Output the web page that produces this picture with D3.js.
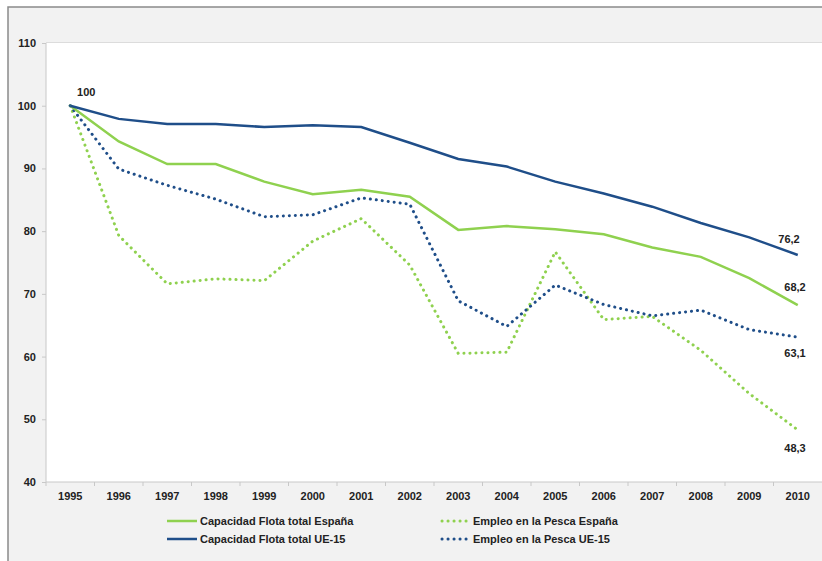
<!DOCTYPE html>
<html lang="es">
<head>
<meta charset="UTF-8">
<script src="https://d3js.org/d3.v7.min.js"></script>
<style>
    body { margin: 0; background: #fff; font-family: Arial, "Liberation Sans", sans-serif; }
    .tick text { font-size: 11px; font-weight: bold; fill: #222; }
    .line { fill: none; }
</style>
</head>
<body>
<svg id="canvas" width="822" height="561"></svg>
<script>
    // data
    const years = ["1995", "1996", "1997", "1998", "1999", "2000", "2001", "2002",
        "2003", "2004", "2005", "2006", "2007", "2008", "2009", "2010"];
    const flotaEspana = [100, 94.3, 90.7, 90.7, 87.9, 85.9, 86.6, 85.5, 80.2, 80.8, 80.3, 79.5, 77.4, 75.9, 72.5, 68.2];
    const flotaUE = [100, 97.9, 97.1, 97.1, 96.6, 96.9, 96.6, 94.1, 91.5, 90.3, 87.9, 86.0, 83.9, 81.3, 79.0, 76.2];
    const empleoEspana = [100, 79.3, 71.6, 72.4, 72.1, 78.4, 82.0, 74.6, 60.5, 60.7, 76.7, 65.9, 66.4, 61.0, 54.1, 48.3];
    const empleoUE = [100, 89.9, 87.3, 85.1, 82.3, 82.6, 85.3, 84.3, 68.9, 64.8, 71.4, 68.3, 66.5, 67.4, 64.3, 63.1];
    const yTicks = [40, 50, 60, 70, 80, 90, 100, 110];

    const green = "#8fd14f";
    const blue = "#1f4e89";

    const series = [
        { name: "Capacidad Flota total España", values: flotaEspana, color: green, dotted: false, last: "68,2" },
        { name: "Empleo en la Pesca España", values: empleoEspana, color: green, dotted: true, last: "48,3" },
        { name: "Capacidad Flota total UE-15", values: flotaUE, color: blue, dotted: false, last: "76,2" },
        { name: "Empleo en la Pesca UE-15", values: empleoUE, color: blue, dotted: true, last: "63,1" }
    ];

    let svg = d3.select("#canvas");

    // grey frame
    svg.append("rect").attr("x", 0).attr("y", 0).attr("width", 822).attr("height", 561).attr("fill", "#fff");
    svg.append("rect").attr("x", 8).attr("y", 7).attr("width", 830).attr("height", 570)
        .attr("fill", "#f2f2f2").attr("stroke", "#8a8a8a").attr("stroke-width", 1.5);

    let margins = { top: 43, left: 46, right: 0, bottom: 79 };
    let chartWidth = 822 - margins.left - margins.right;
    let chartHeight = 561 - margins.top - margins.bottom;

    let chartArea = svg.append("g")
        .attr("transform", `translate(${margins.left},${margins.top})`);

    chartArea.append("rect")
        .attr("width", chartWidth).attr("height", chartHeight)
        .attr("fill", "#fff");
    chartArea.append("line")
        .attr("x1", 0).attr("x2", chartWidth).attr("y1", -0.5).attr("y2", -0.5)
        .attr("stroke", "#dcdcdc");

    const xScale = d3.scaleBand().domain(years).range([0, chartWidth]);
    const yScale = d3.scaleLinear().domain([40, 110]).range([chartHeight, 0]);
    const xMid = d => xScale(d) + xScale.bandwidth() / 2;

    // y axis
    let yAxis = chartArea.append("g")
        .call(d3.axisLeft(yScale).tickValues(yTicks).tickSize(4).tickPadding(6));
    yAxis.selectAll("line, path").attr("stroke", "#c8c8c8");
    yAxis.select(".domain").attr("d", `M0,0V${chartHeight}`);

    // x axis with ticks between categories
    let xAxis = chartArea.append("g")
        .attr("transform", `translate(0,${chartHeight})`)
        .call(d3.axisBottom(xScale).tickSize(0).tickPadding(10));
    xAxis.select(".domain").attr("stroke", "#c8c8c8").attr("d", `M0,0H${chartWidth}`);
    xAxis.selectAll(".sep")
        .data(years)
        .join("line")
        .attr("class", "sep")
        .attr("x1", d => xScale(d)).attr("x2", d => xScale(d))
        .attr("y1", 0).attr("y2", 4)
        .attr("stroke", "#c8c8c8");

    const lineGenerator = d3.line()
        .x((d, i) => xMid(years[i]))
        .y(d => yScale(d));

    const styleLine = (sel) => sel
        .attr("stroke", d => d.color)
        .attr("stroke-width", d => d.dotted ? 3 : 2.5)
        .attr("stroke-linecap", d => d.dotted ? "round" : "butt")
        .attr("stroke-dasharray", d => d.dotted ? "0.1 5.9" : null);

    // draw solid lines on top of dotted ones like the original
    const drawOrder = [series[1], series[3], series[0], series[2]];
    chartArea.selectAll(".series")
        .data(drawOrder)
        .join("path")
        .attr("class", "series line")
        .attr("d", d => lineGenerator(d.values))
        .call(styleLine);

    // value labels
    const labelStyle = sel => sel
        .attr("font-size", 11).attr("font-weight", "bold").attr("fill", "#222");

    chartArea.append("text")
        .attr("x", xMid(years[0]) + 16)
        .attr("y", yScale(flotaUE[0]) - 10)
        .attr("text-anchor", "middle")
        .text("100")
        .call(labelStyle);

    const lastOffsets = { "76,2": -12, "68,2": -14, "63,1": 20, "48,3": 22 };
    const lastDx = { "76,2": 2, "68,2": 8, "63,1": 8, "48,3": 8 };
    chartArea.selectAll(".last")
        .data(series)
        .join("text")
        .attr("class", "last")
        .attr("x", d => xMid(years[years.length - 1]) + lastDx[d.last])
        .attr("y", d => yScale(d.values[d.values.length - 1]) + lastOffsets[d.last])
        .attr("text-anchor", "end")
        .text(d => d.last)
        .call(labelStyle);

    // legend
    const legendPos = [[167, 521], [440, 521], [167, 539], [440, 539]];
    const legend = svg.selectAll(".legend")
        .data(series)
        .join("g")
        .attr("class", "legend")
        .attr("transform", (d, i) => `translate(${legendPos[i][0]},${legendPos[i][1]})`);

    legend.append("path")
        .attr("d", d => d.dotted ? "M2,0H28" : "M0,0H30")
        .attr("fill", "none")
        .call(styleLine);

    legend.append("text")
        .attr("x", 33)
        .attr("y", 4)
        .text(d => d.name)
        .call(labelStyle);
</script>
</body>
</html>
